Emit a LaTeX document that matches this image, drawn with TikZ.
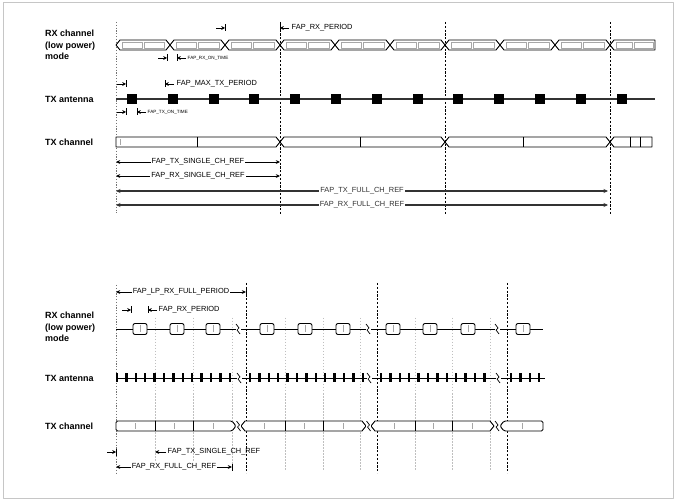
\documentclass[tikz,border=0pt]{standalone}
\usepackage{fontspec}
\setmainfont{Liberation Sans}
\usetikzlibrary{arrows.meta}
\newcommand{\mkR}[2]{%
  \draw[line width=0.8pt,-{Stealth[length=3.8pt,width=3.8pt]}] ({#1-9},#2) -- (#1,#2);
  \draw[line width=1pt] (#1,{#2-3.5}) -- (#1,{#2+3.5});}
\newcommand{\mkL}[2]{%
  \draw[line width=1pt] (#1,{#2-3.5}) -- (#1,{#2+3.5});
  \draw[line width=0.8pt,-{Stealth[length=3.8pt,width=3.8pt]}] ({#1+9},#2) -- (#1,#2);}
\newcommand{\brk}[2]{%
  \fill[white] ({#1-2.5},{#2-5}) rectangle ({#1+2.5},{#2+5});
  \draw[line width=0.7pt] ({#1-2},{#2-5}) -- ({#1+1},{#2-1}) -- ({#1-1},{#2+1}) -- ({#1+2},{#2+5});}
\begin{document}
\begin{tikzpicture}[x=1pt,y=-1pt,line join=round,
  rowlbl/.style={font=\fontsize{9}{11.5}\selectfont\bfseries,align=left,anchor=west,inner sep=0pt},
  dimlbl/.style={font=\fontsize{7.4}{8}\selectfont,inner sep=1.2pt,fill=white},
  plainlbl/.style={font=\fontsize{7.4}{8}\selectfont,inner sep=0.5pt,anchor=west},
  tinylbl/.style={font=\fontsize{4.6}{5}\selectfont,inner sep=0.5pt,anchor=west},
  sig/.style={line width=0.9pt},
  innerbox/.style={gray!70,line width=0.4pt},
  vheavy/.style={line width=0.9pt,dash pattern=on 2.2pt off 1.6pt},
  vdot/.style={black!55,line width=0.6pt,dash pattern=on 1.2pt off 1.6pt},
  vlight/.style={gray!50,line width=0.5pt,dash pattern=on 1.5pt off 1.5pt},
  dimarr/.style={line width=0.8pt,{Stealth[length=4.2pt,width=3.8pt]}-{Stealth[length=4.2pt,width=3.8pt]}},
  longarr/.style={line width=1.2pt,black!80,{Stealth[length=4.5pt,width=4pt]}-{Stealth[length=4.5pt,width=4pt]}},
  tipL/.style={line width=0.8pt,-{Stealth[length=4.2pt,width=3.8pt]}}
]
\path[use as bounding box] (0,0) rectangle (680,502);
\fill[white] (0,0) rectangle (680,502);
\draw[gray!45,line width=0.6pt] (3,2) rectangle (673,498);

%================ TOP DIAGRAM =================
\draw[vdot] (116,22) -- (116,213);
\foreach \x in {280,445,610} \draw[vheavy] (\x,22) -- (\x,214);

\node[rowlbl] (lrx1) at (45,45) {RX channel\\(low power)\\mode};
\node[rowlbl] (lta1) at (45,99) {TX antenna};
\node[rowlbl] (ltc1) at (45,142) {TX channel};

% RX channel (low power) row
\foreach \a/\b in {116/170,170/225,225/280,280/335,335/390,390/445,445/500,500/555,555/610}{
  \pgfmathsetmacro\m{(\a+\b)/2}
  \draw[sig,fill=white] (\a,45) -- ({\a+4},40) -- ({\b-4},40) -- (\b,45) -- ({\b-4},50) -- ({\a+4},50) -- cycle;
  \draw[innerbox] ({\a+6},42) rectangle ({\m-1},48);
  \draw[innerbox] ({\m+1},42) rectangle ({\b-6},48);
}
\draw[sig,fill=white] (610,45) -- (614,40) -- (655,40) -- (655,50) -- (614,50) -- cycle;
\draw[innerbox] (616,42) rectangle (632,48);
\draw[innerbox] (634,42) rectangle (653,48);

\mkR{225}{28}
\mkL{280}{28}
\node[plainlbl] (lrxp) at (291,28) {FAP\_RX\_PERIOD};
\mkR{167}{58}
\mkL{177}{58}
\node[tinylbl] (lrxon) at (187,58) {FAP\_RX\_ON\_TIME};

% TX antenna row
\draw[line width=1.5pt,black!80] (116,99) -- (655,99);
\foreach \k in {0,...,12}{
  \fill ({132+40.8*\k-5},94) rectangle ({132+40.8*\k+5},104);
}
\mkR{126}{84}
\mkL{165}{84}
\node[plainlbl] (lmaxtx) at (176,84) {FAP\_MAX\_TX\_PERIOD};
\mkR{126}{112}
\mkL{137}{112}
\node[tinylbl] (ltxon) at (147,112) {FAP\_TX\_ON\_TIME};

% TX channel row
\draw[sig,fill=white] (116,137) -- (276,137) -- (280,142) -- (276,147) -- (116,147) -- cycle;
\draw[sig,fill=white] (280,142) -- (284,137) -- (441,137) -- (445,142) -- (441,147) -- (284,147) -- cycle;
\draw[sig,fill=white] (445,142) -- (449,137) -- (606,137) -- (610,142) -- (606,147) -- (449,147) -- cycle;
\draw[sig,fill=white] (610,142) -- (614,137) -- (652,137) -- (652,147) -- (614,147) -- cycle;
\foreach \x in {197,360,523,630,640} \draw[line width=0.6pt] (\x,137) -- (\x,147);
\draw[innerbox] (120,139) -- (120,145);

% dimension arrows
\coordinate (t1a) at (116,162); \coordinate (t1b) at (280,162);
\coordinate (t2a) at (116,176); \coordinate (t2b) at (280,176);
\coordinate (t3a) at (116,191); \coordinate (t3b) at (608,191);
\coordinate (t4a) at (116,205); \coordinate (t4b) at (608,205);
\draw[dimarr] (t1a) -- (t1b) node[dimlbl,midway] (ltxs) {FAP\_TX\_SINGLE\_CH\_REF};
\draw[dimarr] (t2a) -- (t2b) node[dimlbl,midway] (lrxs) {FAP\_RX\_SINGLE\_CH\_REF};
\draw[longarr] (t3a) -- (t3b) node[dimlbl,midway] (ltxf) {FAP\_TX\_FULL\_CH\_REF};
\draw[longarr] (t4a) -- (t4b) node[dimlbl,midway] (lrxf) {FAP\_RX\_FULL\_CH\_REF};

%================ BOTTOM DIAGRAM =================
\draw[vdot] (116,285) -- (116,473);
\foreach \x in {155,193,232,285,323,360,415,452,490} \draw[vlight] (\x,318) -- (\x,470);
\foreach \x in {246,377,507} \draw[vheavy] (\x,283) -- (\x,473);

\node[rowlbl] (lrx2) at (45,327) {RX channel\\(low power)\\mode};
\node[rowlbl] (lta2) at (45,378) {TX antenna};
\node[rowlbl] (ltc2) at (45,426) {TX channel};

\coordinate (b1a) at (116,292); \coordinate (b1b) at (246,292);
\draw[dimarr] (b1a) -- (b1b) node[dimlbl,midway] (llpfull) {FAP\_LP\_RX\_FULL\_PERIOD};
\draw[line width=1pt] (246,288.5) -- (246,295.5);
\mkR{131}{310}
\mkL{148}{310}
\node[plainlbl] (lrxp2) at (158,310) {FAP\_RX\_PERIOD};

% RX row
\draw[sig] (116,329) -- (543,329);
\foreach \c in {140,177,213,267,305,343,393,430,468,523}{
  \draw[sig,fill=white,rounded corners=2pt] ({\c-7},323.5) rectangle ({\c+7},334.5);
  \draw[innerbox] (\c,325.5) -- (\c,332.5);
}
\brk{238}{329}
\brk{368}{329}
\brk{497}{329}

% TX antenna row
\draw[line width=0.6pt] (116,378) -- (545,378);
\foreach \s/\n in {117/12,250/12,381/11,511/3}{
  \foreach \k in {0,...,\n}{
    \fill ({\s+9.4*\k-1.2},373.5) rectangle ({\s+9.4*\k+1.2},382.5);
  }
}
\brk{239}{378}
\brk{369}{378}
\brk{498}{378}

% TX channel row
\draw[sig,fill=white,rounded corners=1.5pt] (116,421) -- (232,421) -- (236,426) -- (232,431) -- (116,431) -- cycle;
\draw[sig,fill=white] (241,426) -- (245,421) -- (362,421) -- (366,426) -- (362,431) -- (245,431) -- cycle;
\draw[sig,fill=white] (371,426) -- (375,421) -- (490,421) -- (494,426) -- (490,431) -- (375,431) -- cycle;
\draw[sig,fill=white,rounded corners=1.5pt] (500,426) -- (504,421) -- (543,421) -- (543,431) -- (504,431) -- cycle;
\foreach \x in {155,193,285,323,415,452} \draw[line width=0.6pt] (\x,421) -- (\x,431);
\foreach \x in {135,174,213,264,304,343,394,433,472,522} \draw[innerbox] (\x,423) -- (\x,429);
\brk{238.5}{426}
\brk{368.5}{426}
\brk{497}{426}

\mkR{116}{452}
\coordinate (b2a) at (166,452); \coordinate (b2b) at (155,452);
\draw[tipL] (b2a) -- (b2b);
\node[plainlbl] (ltxs2) at (167,452) {FAP\_TX\_SINGLE\_CH\_REF};
\coordinate (b3a) at (116,467); \coordinate (b3b) at (232,467);
\draw[dimarr] (b3a) -- (b3b) node[dimlbl,midway] (lrxf2) {FAP\_RX\_FULL\_CH\_REF};
\draw[line width=1pt] (232,463.5) -- (232,470.5);
\end{tikzpicture}
\end{document}
